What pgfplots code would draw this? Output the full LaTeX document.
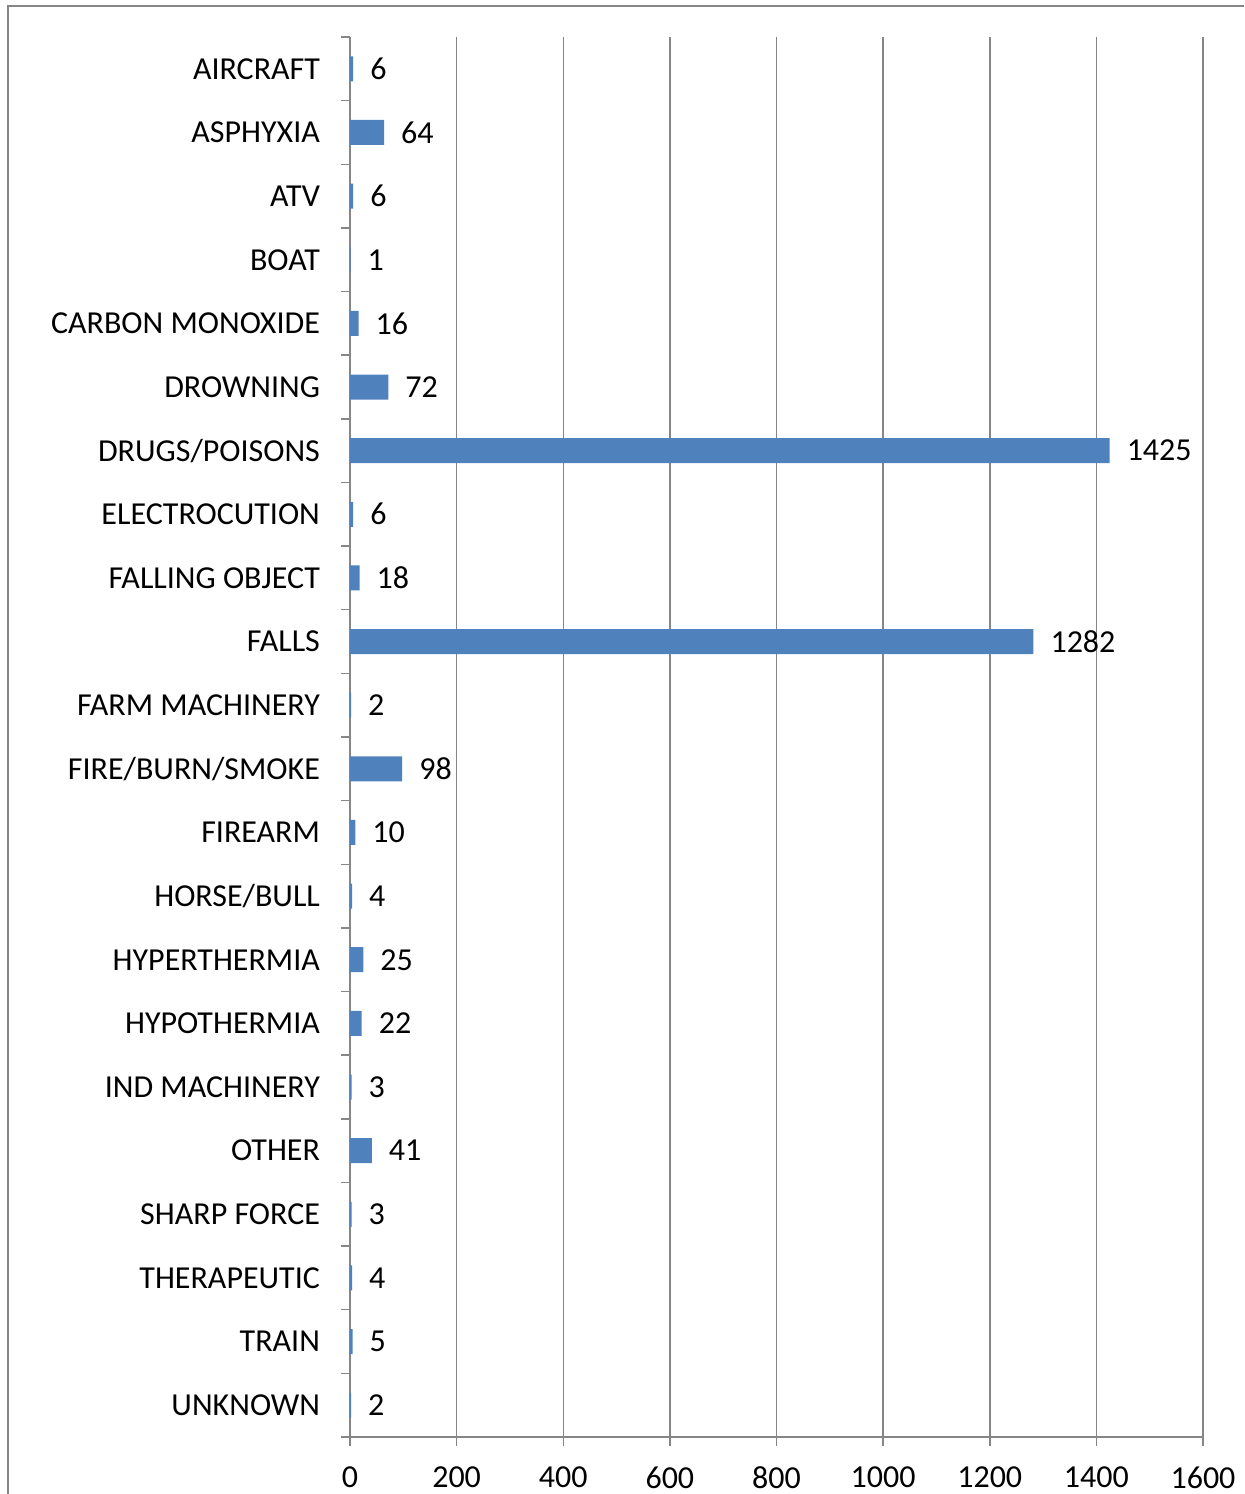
\documentclass[border=0pt]{standalone}
\usepackage{fontspec}
\setmainfont{Carlito}
\usepackage{pgfplots}
\pgfplotsset{compat=1.18}
\definecolor{barblue}{HTML}{4F81BD}
\definecolor{gridgray}{HTML}{868686}
\pgfplotsset{/pgf/number format/assume math mode=true, /pgf/number format/1000 sep={}}
\begin{document}
\fontsize{16}{19}\selectfont
\begin{tikzpicture}[x=1pt,y=1pt]
\useasboundingbox (0,0) rectangle (622,747);
\clip (0,0) rectangle (622,747);
\draw[gridgray, line width=0.8pt] (4,-20) -- (4,744) -- (640,744);
\begin{axis}[
  at={(175pt,28.5pt)}, anchor=south west,
  scale only axis, width=426.5pt, height=700pt,
  xbar, bar width=12.5pt,
  xmin=0, xmax=1600, ymin=-0.5, ymax=21.5,
  y dir=reverse,
  axis lines*=left,
  axis line style={gridgray, line width=0.75pt},
  xtick={0,200,...,1600},
  xmajorgrids, grid style={gridgray, line width=0.75pt},
  ytick={-0.5,0.5,...,21.5},
  yticklabels={},
  extra y ticks={0,...,21},
  extra y tick labels={AIRCRAFT,ASPHYXIA,ATV,BOAT,CARBON MONOXIDE,DROWNING,DRUGS/POISONS,ELECTROCUTION,FALLING OBJECT,FALLS,FARM MACHINERY,FIRE/BURN/SMOKE,FIREARM,HORSE/BULL,HYPERTHERMIA,HYPOTHERMIA,IND MACHINERY,OTHER,SHARP FORCE,THERAPEUTIC,TRAIN,UNKNOWN},
  extra y tick style={tick style={draw=none}},
  tick align=outside,
  major tick length=4.5pt,
  tick style={gridgray, line width=0.75pt},
  tick label style={font=\fontsize{16}{19}\selectfont, text=black},
  yticklabel style={xshift=-5pt},
  xticklabel style={yshift=-5pt},
  nodes near coords,
  every node near coord/.append style={font=\fontsize{16}{19}\selectfont, text=black, anchor=west, xshift=3pt},
  clip=false,
]
\addplot[fill=barblue, draw=none] coordinates {
(6,0) (64,1) (6,2) (1,3) (16,4) (72,5) (1425,6) (6,7) (18,8) (1282,9) (2,10) (98,11) (10,12) (4,13) (25,14) (22,15) (3,16) (41,17) (3,18) (4,19) (5,20) (2,21)
};
\end{axis}
\end{tikzpicture}
\end{document}
